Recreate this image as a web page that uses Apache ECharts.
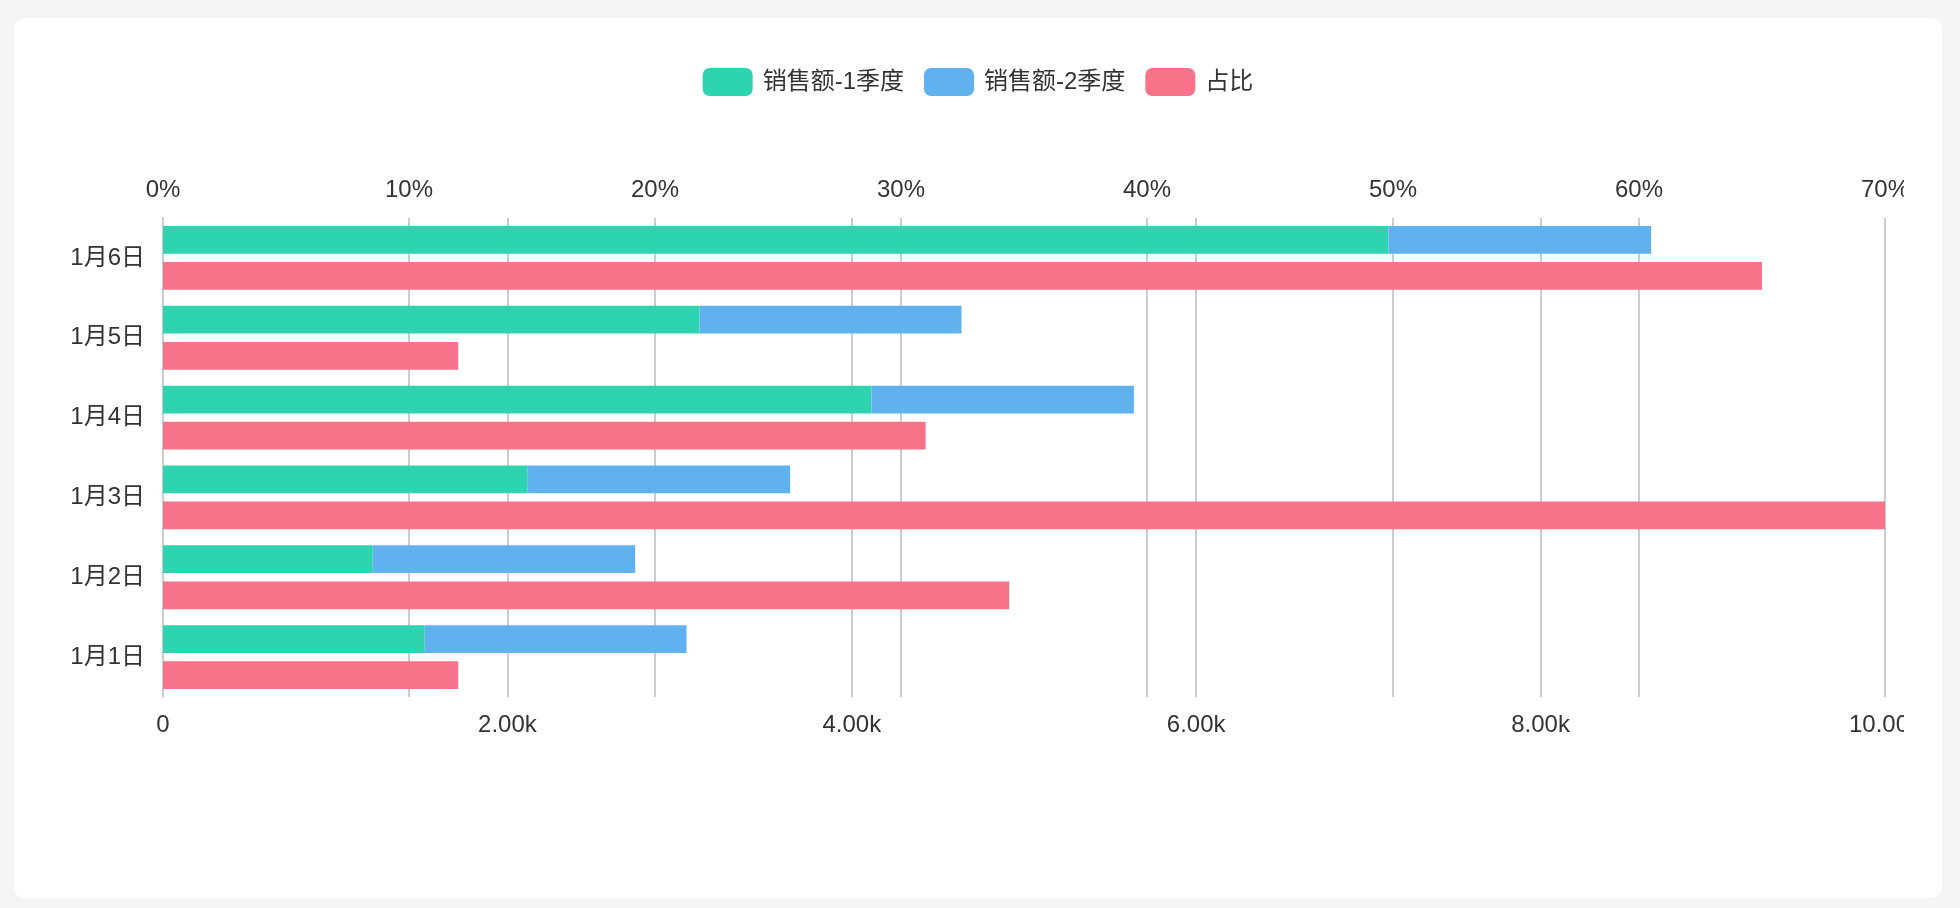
<!DOCTYPE html>
<html><head><meta charset="utf-8">
<script src="https://cdn.jsdelivr.net/npm/echarts@6/dist/echarts.min.js"></script>
<style>
html,body{margin:0;padding:0;background:#f4f4f4;width:1960px;height:908px;overflow:hidden;}
#card{position:absolute;left:14px;top:18px;width:1928px;height:880px;background:#fff;border-radius:10px;}
#chart{position:absolute;left:38px;top:0;width:1852px;height:880px;}
</style></head><body>
<div id="card"><div id="chart"></div></div>
<script>
// ---- data ----
const categories = ['1月1日', '1月2日', '1月3日', '1月4日', '1月5日', '1月6日'];
const sales1 = [1520, 1218, 2118, 4114, 3116, 7116];   // 销售额-1季度
const sales2 = [1520, 1524, 1524, 1524, 1521, 1526];   // 销售额-2季度
const ratio  = [12, 34.4, 70, 31, 12, 65];             // 占比 (%)
const seriesNames = ['销售额-1季度', '销售额-2季度', '占比'];
const pctTicks = [0, 10, 20, 30, 40, 50, 60, 70];
const valTicks = [0, 2000, 4000, 6000, 8000, 10000];
const colors = ['#2ED4B0', '#60B2EE', '#F87289'];

const FONT = "'Liberation Sans', 'Noto Sans CJK SC', sans-serif";
const chart = echarts.init(document.getElementById('chart'));
const splitLine = { show: true, lineStyle: { color: '#cccccc', width: 2 } };

chart.setOption({
  animation: false,
  color: colors,
  textStyle: { fontFamily: FONT },
  legend: {
    top: 50, left: 'center', padding: 0,
    itemWidth: 50, itemHeight: 28, itemGap: 20,
    icon: 'roundRect',
    data: seriesNames,
    textStyle: { fontSize: 24, color: '#333', fontFamily: FONT, padding: [0, 0, 0, 5] }
  },
  grid: { left: 111, right: 19, top: 200, bottom: 201, containLabel: false, outerBoundsMode: 'none' },
  xAxis: [
    {
      type: 'value', position: 'top',
      min: pctTicks[0], max: pctTicks[pctTicks.length - 1], interval: pctTicks[1] - pctTicks[0],
      axisLine: { show: false }, axisTick: { show: false },
      axisLabel: { fontSize: 24, color: '#333', margin: 16, fontFamily: FONT, formatter: v => v + '%' },
      splitLine: splitLine
    },
    {
      type: 'value', position: 'bottom',
      min: valTicks[0], max: valTicks[valTicks.length - 1], interval: valTicks[1] - valTicks[0],
      axisLine: { show: false }, axisTick: { show: false },
      axisLabel: { fontSize: 24, color: '#333', margin: 16, fontFamily: FONT,
        formatter: v => v === 0 ? '0' : (v / 1000).toFixed(2) + 'k' },
      splitLine: splitLine
    }
  ],
  yAxis: {
    type: 'category', data: categories,
    axisLine: { show: true, lineStyle: { color: '#cccccc', width: 2 } },
    axisTick: { show: false },
    axisLabel: { fontSize: 24, color: '#333', margin: 18, fontFamily: FONT },
    splitLine: { show: false }
  },
  series: [
    { name: seriesNames[0], type: 'bar', stack: 'sales', xAxisIndex: 1, data: sales1,
      barGap: '30%', barCategoryGap: '20%' },
    { name: seriesNames[1], type: 'bar', stack: 'sales', xAxisIndex: 1, data: sales2 },
    { name: seriesNames[2], type: 'bar', xAxisIndex: 0, data: ratio }
  ]
});
</script>
</body></html>
